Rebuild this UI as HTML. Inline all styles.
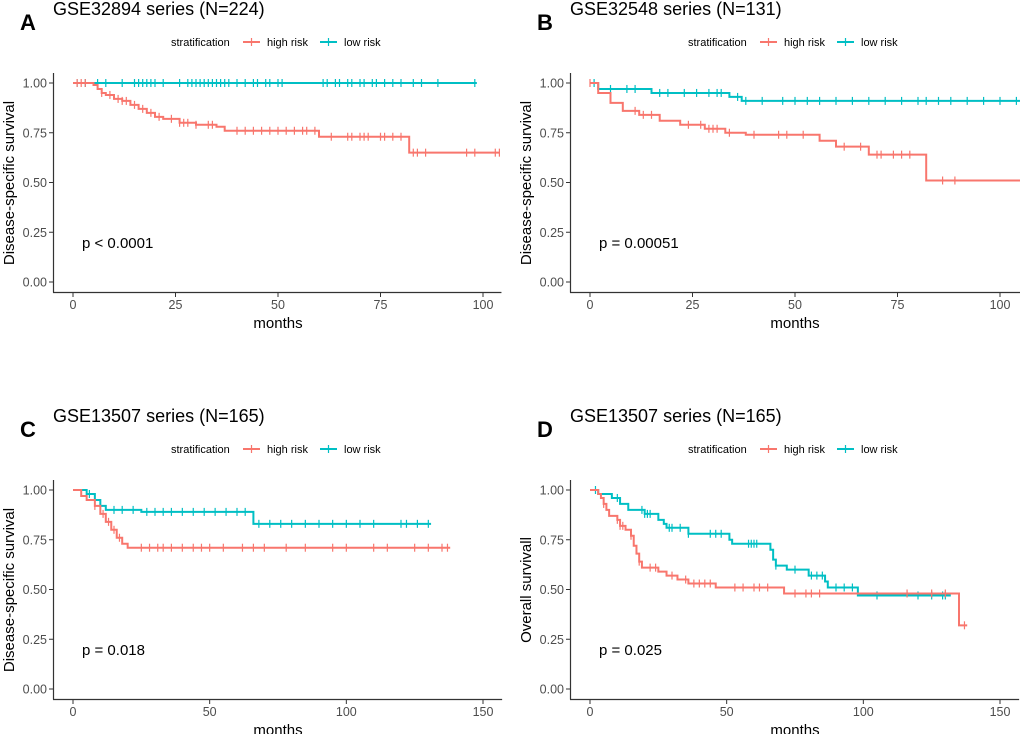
<!DOCTYPE html>
<html><head><meta charset="utf-8"><style>
body{margin:0;background:#fff;width:1020px;height:734px;overflow:hidden;font-family:"Liberation Sans",Arial,sans-serif}
svg text{font-family:"Liberation Sans",Arial,sans-serif}
</style></head><body>
<svg id="fig" width="1020" height="734" viewBox="0 0 1020 734" xmlns="http://www.w3.org/2000/svg"></svg>
<script>
// Panel A
const aHighEvents=[[0,1],[5,0.99],[6,0.97],[7,0.95],[8,0.94],[10,0.92],[12,0.91],[14,0.89],[16,0.87],[18,0.85],[20,0.83],[22,0.82],[26,0.80],[30,0.79],[35,0.78],[37,0.76],[60,0.73],[82,0.65]];
const aHighCensor=[1,2,3,7,9,11,12,13,15,17,19,21,24,26,27,28,30,33,34,40,42,44,46,48,50,52,54,56,57,59,63,67,68,70,71,72,75,76,78,80,83,84,86,96,98,103,104];
const aLowEvents=[[0,1]];
const aLowCensor=[1,3,6,8,12,15,16,17,18,19,20,22,26,28,29,30,31,32,33,34,35,36,37,38,40,42,44,45,47,48,50,51,61,62,64,65,67,68,70,71,73,74,76,78,80,83,85,89,98];
// Panel B
const bHighEvents=[[0,1],[2,0.95],[5,0.90],[8,0.86],[12,0.84],[17,0.81],[22,0.79],[28,0.77],[33,0.75],[38,0.74],[56,0.71],[60,0.68],[68,0.64],[82,0.51]];
const bHighCensor=[0,11,13,15,24,27,29,30,31,34,40,46,48,52,62,66,70,71,74,76,78,86,89];
const bLowEvents=[[0,1],[2,0.97],[15,0.95],[34,0.93],[37,0.91]];
const bLowCensor=[1,5,9,11,17,19,23,26,29,31,32,36,38,42,47,50,53,56,60,64,68,72,76,80,82,85,88,92,96,100,104];
// Panel C
const cHighEvents=[[0,1],[3,0.97],[5,0.95],[8,0.92],[10,0.88],[12,0.84],[14,0.80],[16,0.76],[18,0.73],[20,0.71]];
const cHighCensor=[8,11,13,15,17,25,28,31,33,36,40,44,47,50,55,62,66,70,78,85,95,100,110,115,125,130,135,137];
const cLowEvents=[[0,1],[5,0.98],[8,0.95],[10,0.92],[12,0.90],[25,0.89],[66,0.83]];
const cLowCensor=[6,15,18,22,27,30,33,36,40,44,48,52,56,60,63,68,72,76,80,85,90,95,100,105,110,120,122,126,130];
// Panel D
const dHighEvents=[[0,1],[3,0.98],[4,0.96],[5,0.93],[6,0.90],[7,0.87],[10,0.85],[11,0.82],[13,0.80],[15,0.77],[16,0.72],[17,0.68],[18,0.64],[19,0.61],[25,0.59],[28,0.57],[32,0.55],[36,0.53],[46,0.51],[71,0.48],[135,0.32]];
const dHighCensor=[5,10,11,12,15,18,22,24,30,35,38,40,42,44,53,56,60,62,65,75,79,81,84,116,125,130,137];
const dLowEvents=[[0,1],[3,0.98],[8,0.96],[11,0.93],[14,0.90],[20,0.88],[25,0.85],[27,0.83],[28,0.81],[36,0.78],[51,0.75],[52,0.73],[66,0.70],[67,0.65],[68,0.62],[72,0.60],[80,0.57],[86,0.54],[87,0.51],[98,0.47]];
const dLowCensor=[2,10,19,20,21,22,29,30,33,36,44,46,48,58,59,60,61,68,75,81,83,85,90,93,96,105,120,125,129,130];

const panels=[
 {id:'a',letter:'A',dx:0,dy:0,title:'GSE32894 series (N=224)',ylab:'Disease-specific survival',p:'p < 0.0001',xmax:104.5,xstep:25,xticks:[0,25,50,75,100],high:[aHighEvents,aHighCensor,104],low:[aLowEvents,aLowCensor,98.5]},
 {id:'b',letter:'B',dx:517,dy:0,title:'GSE32548 series (N=131)',ylab:'Disease-specific survival',p:'p = 0.00051',xmax:105,xticks:[0,25,50,75,100],high:[bHighEvents,bHighCensor,105],low:[bLowEvents,bLowCensor,105]},
 {id:'c',letter:'C',dx:0,dy:407,title:'GSE13507 series (N=165)',ylab:'Disease-specific survival',p:'p = 0.018',xmax:157,xticks:[0,50,100,150],high:[cHighEvents,cHighCensor,138],low:[cLowEvents,cLowCensor,131]},
 {id:'d',letter:'D',dx:517,dy:407,title:'GSE13507 series (N=165)',ylab:'Overall survivall',p:'p = 0.025',xmax:157,xticks:[0,50,100,150],high:[dHighEvents,dHighCensor,138],low:[dLowEvents,dLowCensor,132]}
];
const yTicks=[0,0.25,0.5,0.75,1];
const NS='http://www.w3.org/2000/svg';
const svg=document.getElementById('fig');
function mk(tag,attrs,parent){const e=document.createElementNS(NS,tag);for(const k in attrs)e.setAttribute(k,attrs[k]);(parent||svg).appendChild(e);return e;}
const RED='#F8766D',TEAL='#00BFC4';
panels.forEach(P=>{
  const g=mk('g',{transform:`translate(${P.dx},${P.dy})`});
  
  
  const x0=73, x150=P.xticks.length===4?483:483; // pixel of last nice tick
  const lastTick=P.xticks[P.xticks.length-1];
  const xs=v=>x0+(v/ (lastTick))*(x150-x0);
  const ys=v=>282-v*199;
  // axes
  const xr=Math.min(xs(P.xmax),503);
  let ax=mk('line',{x1:53.5,y1:73,x2:53.5,y2:292.5,stroke:'#333','stroke-width':1.2},g);
  
  ax=mk('line',{x1:53,y1:292.5,x2:xr,y2:292.5,stroke:'#333','stroke-width':1.2},g);
  
  yTicks.forEach(t=>{
    mk('line',{x1:49,x2:53,y1:ys(t),y2:ys(t),stroke:'#333'},g);
    const tx=mk('text',{x:47,y:ys(t)+4.5,'text-anchor':'end','font-size':12.5,fill:'#4d4d4d'},g);tx.textContent=t.toFixed(2);
    
  });
  P.xticks.forEach(t=>{
    mk('line',{x1:xs(t),x2:xs(t),y1:293,y2:297,stroke:'#333'},g);
    const tx=mk('text',{x:xs(t),y:309,'text-anchor':'middle','font-size':12.5,fill:'#4d4d4d'},g);tx.textContent=t;
    
  });
  let t=mk('text',{x:278,y:328,'text-anchor':'middle','font-size':15,fill:'#000'},g);t.textContent='months';
  
  t=mk('text',{x:0,y:0,transform:'translate(14,183) rotate(-90)','text-anchor':'middle','font-size':15,fill:'#000'},g);t.textContent=P.ylab;
  
  t=mk('text',{x:53,y:15,'font-size':18,fill:'#000'},g);t.textContent=P.title;
  
  t=mk('text',{x:20,y:30,'font-size':22,'font-weight':'bold',fill:'#000'},g);t.textContent=P.letter;
  
  t=mk('text',{x:82,y:248,'font-size':15,fill:'#000'},g);t.textContent=P.p;
  
  // legend
  const lg=mk('g',{},g);
  
  t=mk('text',{x:171,y:46,'font-size':11,fill:'#000'},lg);t.textContent='stratification';
  [[RED,'high risk',243],[TEAL,'low risk',320]].forEach(([c,l,x])=>{
    mk('line',{x1:x,x2:x+17,y1:42,y2:42,stroke:c,'stroke-width':2},lg);
    mk('line',{x1:x+8.5,x2:x+8.5,y1:38,y2:46,stroke:c,'stroke-width':1.2},lg);
    const tt=mk('text',{x:x+24,y:46,'font-size':11,fill:'#000'},lg);tt.textContent=l;
    
  });
  // curves
  [[P.low,TEAL,'low-risk'],[P.high,RED,'high-risk']].forEach(([S,c,nm])=>{
    const [ev,cens,end]=S;
    let d=`M${xs(ev[0][0])},${ys(ev[0][1])}`;let cur=ev[0][1];
    for(let i=1;i<ev.length;i++){d+=`H${xs(ev[i][0])}V${ys(ev[i][1])}`;cur=ev[i][1];}
    d+=`H${xs(end)}`;
    const pth=mk('path',{d:d,fill:'none',stroke:c,'stroke-width':2},g);
    
    const survAt=tm=>{let s=ev[0][1];ev.forEach(e=>{if(e[0]<=tm)s=e[1];});return s;};
    cens.forEach(tm=>{
      const m=mk('line',{x1:xs(tm),x2:xs(tm),y1:ys(survAt(tm))-4,y2:ys(survAt(tm))+4,stroke:c,'stroke-width':1.2},g);
      
    });
  });
});
</script>
</body></html>
